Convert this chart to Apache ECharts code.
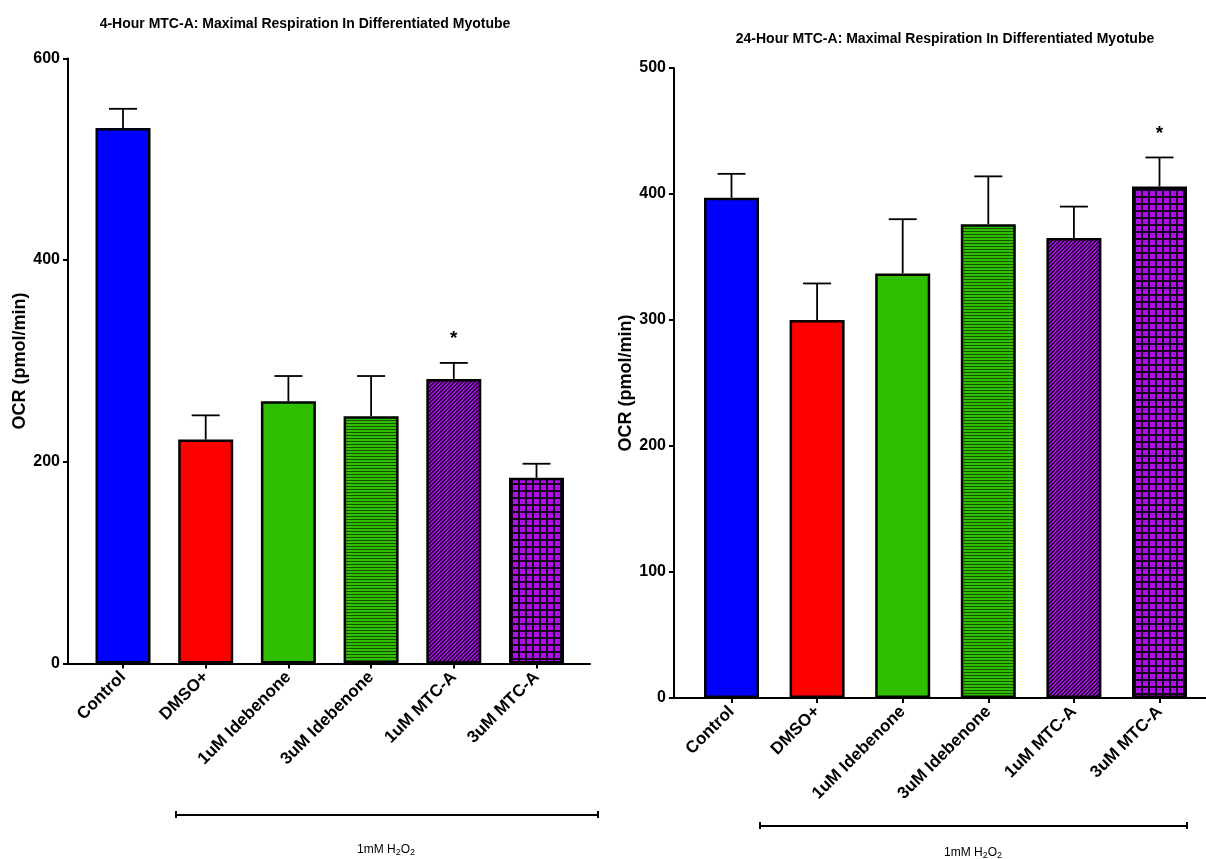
<!DOCTYPE html>
<html>
<head>
<meta charset="utf-8">
<script src="https://cdn.jsdelivr.net/npm/echarts@6/dist/echarts.min.js"></script>
<style>
html,body{margin:0;padding:0;background:#fff;}
#main{width:1206px;height:859px;}
</style>
</head>
<body>
<div id="main"></div>
<script>
// ---------- data ----------
const categories = ['Control', 'DMSO+', '1uM Idebenone', '3uM Idebenone', '1uM MTC-A', '3uM MTC-A'];
const title4h = '4-Hour MTC-A: Maximal Respiration In Differentiated Myotube';
const title24h = '24-Hour MTC-A: Maximal Respiration In Differentiated Myotube';
const mean4h = [531, 222, 260, 245, 282, 184];
const sem4h  = [19, 24, 25, 40, 16, 14];
const star4h = ['', '', '', '', '*', ''];
const mean24h = [397, 300, 337, 376, 365, 406];
const sem24h  = [19, 29, 43, 38, 25, 23];
const star24h = ['', '', '', '', '', '*'];
const yTicks4h = [0, 200, 400, 600];
const yTicks24h = [0, 100, 200, 300, 400, 500];
const yName = 'OCR (pmol/min)';

// ---------- patterns ----------
function tile(w, h, draw) {
  const c = document.createElement('canvas');
  c.width = w; c.height = h;
  const g = c.getContext('2d');
  draw(g);
  return { image: c, repeat: 'repeat' };
}
const fills = [
  '#0000FF',
  '#FF0000',
  '#2FBF00',
  tile(4, 3, g => { g.fillStyle = '#2FBF00'; g.fillRect(0, 0, 4, 3); g.fillStyle = '#145200'; g.fillRect(0, 0, 4, 1); }),
  tile(4, 4, g => { g.fillStyle = '#9A10D8'; g.fillRect(0, 0, 4, 4); g.fillStyle = '#2a0038';
    for (let i = 0; i < 4; i++) { g.fillRect(i, 3 - i, 1, 1); g.fillRect(i, (4 - i) % 4, 1, 1); } }),
  tile(7, 7, g => { g.fillStyle = '#B00CEC'; g.fillRect(0, 0, 7, 7); g.fillStyle = '#160020';
    g.fillRect(0, 0, 7, 2); g.fillRect(0, 0, 2, 7); })
];

const FONT = 'Arial, "Liberation Sans", sans-serif';

function barData(means) {
  return means.map((v, i) => ({ value: v, itemStyle: { color: fills[i] } }));
}
function errData(means, sems, stars) {
  return means.map((v, i) => [i, v, sems[i], stars[i]]);
}
function renderErr(params, api) {
  const x = api.value(0), m = api.value(1), e = api.value(2);
  const s = params.dataIndex;
  const p0 = api.coord([x, m]);
  const p1 = api.coord([x, m + e]);
  const cap = 14;
  const children = [
    { type: 'line', shape: { x1: p0[0], y1: p0[1], x2: p1[0], y2: p1[1] }, style: { stroke: '#000', lineWidth: 1.8 } },
    { type: 'line', shape: { x1: p1[0] - cap, y1: p1[1], x2: p1[0] + cap, y2: p1[1] }, style: { stroke: '#000', lineWidth: 1.8 } }
  ];
  const star = params.seriesIndex === 1 ? star4h[s] : star24h[s];
  if (star) {
    children.push({ type: 'text', x: p1[0], y: p1[1] - 24, style: { text: star, fill: '#000', font: 'bold 19px ' + FONT, align: 'center', verticalAlign: 'middle' } });
  }
  return { type: 'group', children };
}

const axisLabelStyle = { fontFamily: FONT, fontWeight: 'bold', fontSize: 16, color: '#000' };

function frameAxes(gridIdx, max, interval) {
  return {
    x: { gridIndex: gridIdx, type: 'value', min: 0, max: 1, axisLine: { show: true, lineStyle: { color: '#000', width: 2 } },
         axisTick: { show: false }, axisLabel: { show: false }, splitLine: { show: false } },
    y: { gridIndex: gridIdx, type: 'value', min: 0, max: max, interval: interval,
         axisLine: { show: true, lineStyle: { color: '#000', width: 2 } },
         axisTick: { show: true, length: 5, lineStyle: { color: '#000', width: 2 } },
         axisLabel: Object.assign({ margin: 8 }, axisLabelStyle),
         splitLine: { show: false },
         name: yName, nameLocation: 'middle', nameGap: 35,
         nameTextStyle: { fontFamily: FONT, fontWeight: 'bold', fontSize: 18, color: '#000' } }
  };
}
function barAxes(gridIdx, max) {
  return {
    x: { gridIndex: gridIdx, type: 'category', data: categories,
         axisLine: { show: false },
         axisTick: { show: true, alignWithLabel: true, length: 5, lineStyle: { color: '#000', width: 2 } },
         axisLabel: Object.assign({ rotate: 45, margin: 11, interval: 0 }, axisLabelStyle, { fontSize: 17 }) },
    y: { gridIndex: gridIdx, type: 'value', min: 0, max: max, show: false, splitLine: { show: false } }
  };
}

const fL = frameAxes(0, 600, 200), bL = barAxes(1, 600);
const fR = frameAxes(2, 500, 100), bR = barAxes(3, 500);

const chart = echarts.init(document.getElementById('main'), null, { renderer: 'canvas' });

function subLabel(x, y) {
  return { type: 'text', x: x, y: y,
    style: { text: '{a|1mM H}{s|2}{a|O}{s|2}', align: 'center', verticalAlign: 'middle',
      rich: { a: { fontFamily: FONT, fontSize: 12, color: '#000', lineHeight: 16 },
              s: { fontFamily: FONT, fontSize: 9, color: '#000', lineHeight: 16, padding: [6, 0, 0, 0] } } } };
}
function bracket(x1, x2, y) {
  return [
    { type: 'line', shape: { x1: x1, y1: y, x2: x2, y2: y }, style: { stroke: '#000', lineWidth: 2 } },
    { type: 'line', shape: { x1: x1, y1: y - 4, x2: x1, y2: y + 3 }, style: { stroke: '#000', lineWidth: 2 } },
    { type: 'line', shape: { x1: x2, y1: y - 4, x2: x2, y2: y + 3 }, style: { stroke: '#000', lineWidth: 2 } }
  ];
}

chart.setOption({
  animation: false,
  backgroundColor: '#fff',
  title: [
    { text: title4h, left: 300, top: 12, textAlign: 'center',
      textStyle: { fontFamily: FONT, fontWeight: 'bold', fontSize: 14, color: '#000' } },
    { text: title24h, left: 940, top: 27, textAlign: 'center',
      textStyle: { fontFamily: FONT, fontWeight: 'bold', fontSize: 14, color: '#000' } }
  ],
  grid: [
    { left: 68, top: 58.4, width: 522, height: 605 },
    { left: 81.65, top: 58.4, width: 496.2, height: 605 },
    { left: 674, top: 68, width: 540, height: 630 },
    { left: 688.7, top: 68, width: 513.6, height: 630 }
  ],
  xAxis: [fL.x, bL.x, fR.x, bR.x],
  yAxis: [fL.y, bL.y, fR.y, bR.y],
  series: [
    { type: 'bar', xAxisIndex: 1, yAxisIndex: 1, barWidth: 55, data: barData(mean4h),
      itemStyle: { borderColor: '#000', borderWidth: 2.5 } },
    { type: 'custom', xAxisIndex: 1, yAxisIndex: 1, renderItem: renderErr, data: errData(mean4h, sem4h, star4h), z: 3 },
    { type: 'bar', xAxisIndex: 3, yAxisIndex: 3, barWidth: 55, data: barData(mean24h),
      itemStyle: { borderColor: '#000', borderWidth: 2.5 } },
    { type: 'custom', xAxisIndex: 3, yAxisIndex: 3, renderItem: renderErr, data: errData(mean24h, sem24h, star24h), z: 3 }
  ],
  graphic: [].concat(
    bracket(176, 598, 815),
    bracket(760, 1187, 826),
    [subLabel(386, 850), subLabel(973, 853)]
  )
});
</script>
</body>
</html>
